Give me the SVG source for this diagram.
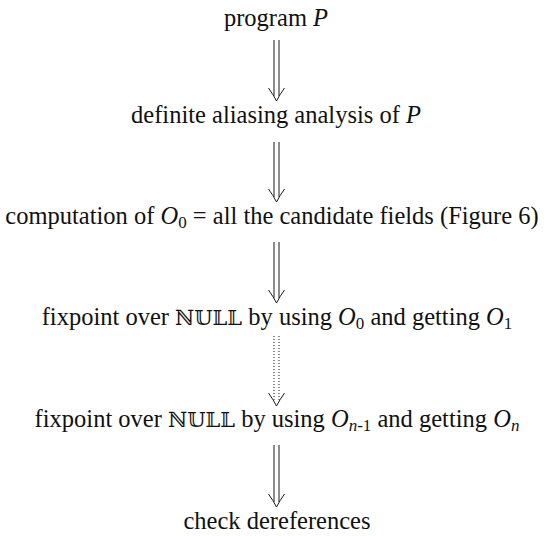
<svg xmlns="http://www.w3.org/2000/svg" width="544" height="536" viewBox="0 0 544 536">
<style>
text{font-family:"Liberation Serif","DejaVu Serif",serif;font-size:24.5px;fill:#111;text-anchor:middle}
.i{font-style:italic}
.s{font-size:17px}
.bb{font-family:"DejaVu Serif","DejaVu Sans","Noto Sans",serif;font-size:21px}
.ln{stroke:#1a1a1a;stroke-width:1;fill:none}
.dt{stroke:#1a1a1a;stroke-width:1;fill:none;stroke-dasharray:1 2}
</style>
<defs>
<path id="head" class="ln" d="M-8,-13 Q-3,-6 0,0 Q3,-6 8,-13"/>
</defs>
<rect width="544" height="536" fill="#fff"/>
<g id="connectors">
<g id="a1"><path class="ln" d="M274,40V96M279,40V96"/><use href="#head" x="276.5" y="101"/></g>
<g id="a2"><path class="ln" d="M274,142V197M279,142V197"/><use href="#head" x="276.5" y="202"/></g>
<g id="a3"><path class="ln" d="M274,242V298M279,242V298"/><use href="#head" x="276.5" y="303"/></g>
<g id="a4"><path class="dt" d="M274,336V401M279,336V401"/><use href="#head" x="276.5" y="406"/></g>
<g id="a5"><path class="ln" d="M274,445V502M279,445V502"/><use href="#head" x="276.5" y="507"/></g>
</g>
<g id="n1"><text x="276" y="26">program <tspan class="i">P</tspan></text></g>
<g id="n2"><text x="276" y="123">definite aliasing analysis of <tspan class="i">P</tspan></text></g>
<g id="n3"><text x="272" y="224">computation of <tspan class="i">O</tspan><tspan class="s" dy="4">0</tspan><tspan dy="-4"> = all the candidate fields (Figure 6)</tspan></text></g>
<g id="n4"><text x="277" y="325">fixpoint over <tspan class="bb">ℕ𝕌𝕃𝕃</tspan> by using <tspan class="i">O</tspan><tspan class="s" dy="4">0</tspan><tspan dy="-4"> and getting </tspan><tspan class="i">O</tspan><tspan class="s" dy="4">1</tspan></text></g>
<g id="n5"><text x="277" y="427">fixpoint over <tspan class="bb">ℕ𝕌𝕃𝕃</tspan> by using <tspan class="i">O</tspan><tspan class="s i" dy="4">n</tspan><tspan class="s" dy="0">-1</tspan><tspan dy="-4"> and getting </tspan><tspan class="i">O</tspan><tspan class="s i" dy="4">n</tspan></text></g>
<g id="n6"><text x="277" y="529">check dereferences</text></g>
</svg>
